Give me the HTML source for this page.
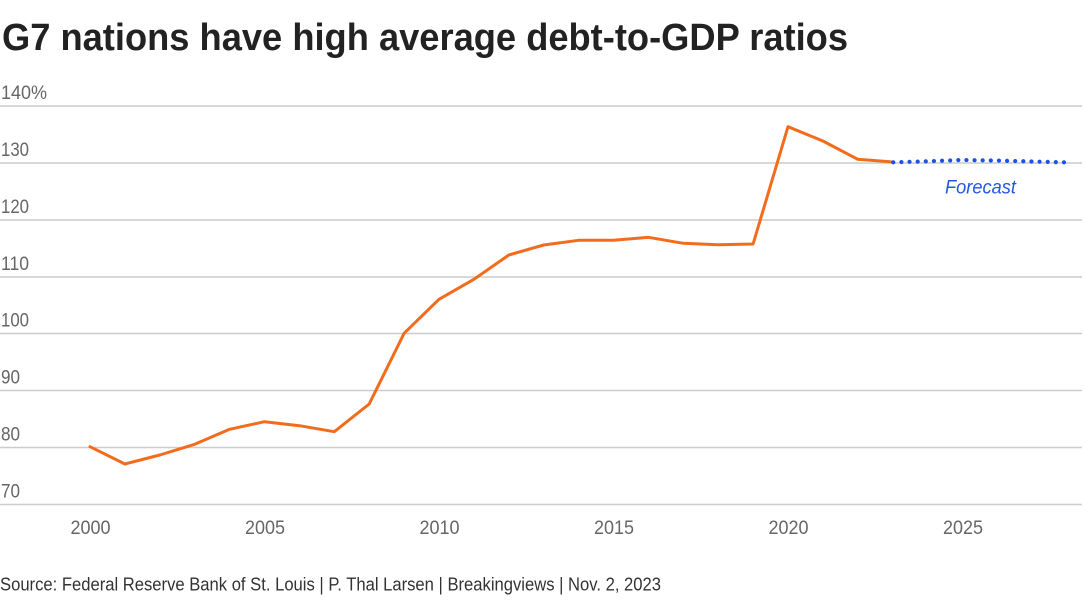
<!DOCTYPE html>
<html>
<head>
<meta charset="utf-8">
<style>
html,body{margin:0;padding:0;background:#fff;}
svg{display:block;}
text{font-family:"Liberation Sans",sans-serif;}
</style>
</head>
<body>
<svg width="1085" height="600" viewBox="0 0 1085 600" xmlns="http://www.w3.org/2000/svg">
<rect width="1085" height="600" fill="#fff"/>
<text x="2" y="50" font-size="38" font-weight="bold" fill="#222" textLength="846" lengthAdjust="spacingAndGlyphs">G7 nations have high average debt-to-GDP ratios</text>

<g stroke="#cccccc" stroke-width="1.4">
<line x1="0" y1="106" x2="1082" y2="106"/>
<line x1="0" y1="163" x2="1082" y2="163"/>
<line x1="0" y1="220" x2="1082" y2="220"/>
<line x1="0" y1="277" x2="1082" y2="277"/>
<line x1="0" y1="333.5" x2="1082" y2="333.5"/>
<line x1="0" y1="390.5" x2="1082" y2="390.5"/>
<line x1="0" y1="447.5" x2="1082" y2="447.5"/>
<line x1="0" y1="504.5" x2="1082" y2="504.5"/>
</g>

<g font-size="19" fill="#666">
<text x="1" y="99" textLength="46" lengthAdjust="spacingAndGlyphs">140%</text>
<text x="1" y="156" textLength="28" lengthAdjust="spacingAndGlyphs">130</text>
<text x="1" y="213" textLength="28" lengthAdjust="spacingAndGlyphs">120</text>
<text x="1" y="270" textLength="28" lengthAdjust="spacingAndGlyphs">110</text>
<text x="1" y="326.5" textLength="28" lengthAdjust="spacingAndGlyphs">100</text>
<text x="1" y="383.5" textLength="19" lengthAdjust="spacingAndGlyphs">90</text>
<text x="1" y="440.5" textLength="19" lengthAdjust="spacingAndGlyphs">80</text>
<text x="1" y="497.5" textLength="19" lengthAdjust="spacingAndGlyphs">70</text>
</g>

<g font-size="19" fill="#666" text-anchor="middle">
<text x="90.5" y="534" textLength="40" lengthAdjust="spacingAndGlyphs">2000</text>
<text x="265" y="534" textLength="40" lengthAdjust="spacingAndGlyphs">2005</text>
<text x="439.5" y="534" textLength="40" lengthAdjust="spacingAndGlyphs">2010</text>
<text x="614" y="534" textLength="40" lengthAdjust="spacingAndGlyphs">2015</text>
<text x="788.5" y="534" textLength="40" lengthAdjust="spacingAndGlyphs">2020</text>
<text x="963" y="534" textLength="40" lengthAdjust="spacingAndGlyphs">2025</text>
</g>

<polyline fill="none" stroke="#f26c1c" stroke-width="3" stroke-linejoin="round" stroke-linecap="round"
points="90,446.7 124.9,464 159.8,455 194.7,444.3 229.6,429.3 264.5,421.7 299.4,425.7 334.3,431.7 369.2,404 404.1,333.3 439,299.3 473.9,279.3 508.8,255 543.7,245 578.6,240.3 613.5,240.3 648.4,237.3 683.3,243.3 718.2,244.7 753.1,244 788,126.7 822.9,141 857.8,159.3 892.7,162"/>

<polyline fill="none" stroke="#1a52e6" stroke-width="4.2" stroke-linecap="round" stroke-dasharray="0 8.13"
points="893.3,162.3 927.6,161.3 962.5,160 997.4,160.6 1032.3,161.5 1064,162.3"/>

<text x="945" y="193.5" font-size="19" font-style="italic" fill="#2457e0" textLength="71" lengthAdjust="spacingAndGlyphs">Forecast</text>

<text x="0" y="590.5" font-size="18" fill="#333" textLength="661" lengthAdjust="spacingAndGlyphs">Source: Federal Reserve Bank of St. Louis | P. Thal Larsen | Breakingviews | Nov. 2, 2023</text>
</svg>
</body>
</html>
